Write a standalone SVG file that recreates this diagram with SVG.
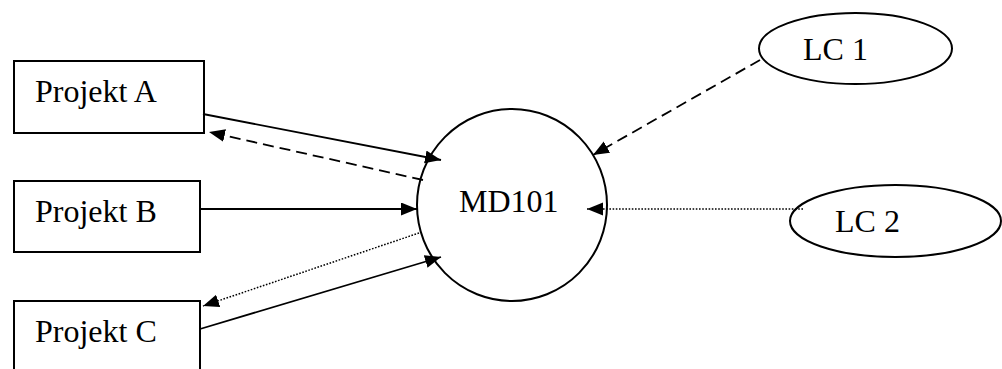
<svg xmlns="http://www.w3.org/2000/svg" width="1002" height="369" viewBox="0 0 1002 369">
<style>
.node{fill:#fff;stroke:#000;stroke-width:2}
.lbl{font-family:"Liberation Serif","Times New Roman",serif;font-size:32px;fill:#000}
.c{fill:none;stroke:#000;stroke-width:1.8}
.dash{stroke-dasharray:11 6}
.dot{stroke-dasharray:1.6 1.6;stroke-width:1.5}
</style>
<defs>
<marker id="ah" markerUnits="userSpaceOnUse" markerWidth="17" markerHeight="14" refX="16" refY="6.5" orient="auto">
<path d="M0,0 L16,6.5 L0,13 z" fill="#000"/>
</marker>
</defs>
<rect width="1002" height="369" fill="#fff"/>
<g id="projektA"><rect class="node" x="14" y="61" width="190" height="72"/><text class="lbl" x="35" y="102">Projekt A</text></g>
<g id="projektB"><rect class="node" x="14" y="181" width="186" height="71"/><text class="lbl" x="35" y="222">Projekt B</text></g>
<g id="projektC"><rect class="node" x="14" y="301" width="186" height="80"/><text class="lbl" x="35" y="342">Projekt C</text></g>
<g id="md101"><ellipse class="node" cx="512" cy="205" rx="95" ry="96"/><text class="lbl" x="459" y="212">MD101</text></g>
<g id="lc1"><ellipse class="node" cx="855.5" cy="48.5" rx="96.5" ry="35.5"/><text class="lbl" x="803" y="60">LC 1</text></g>
<g id="lc2"><ellipse class="node" cx="895.5" cy="221" rx="105.5" ry="36"/><text class="lbl" x="835" y="232">LC 2</text></g>
<g id="connectors">
<line class="c" x1="203" y1="114" x2="441" y2="160" marker-end="url(#ah)"/>
<line class="c dash" x1="423" y1="180" x2="209" y2="132" marker-end="url(#ah)"/>
<line class="c" x1="200" y1="209" x2="417" y2="209" marker-end="url(#ah)"/>
<line class="c dot" x1="419" y1="233" x2="203" y2="306" marker-end="url(#ah)"/>
<line class="c" x1="200" y1="329" x2="441" y2="257" marker-end="url(#ah)"/>
<line class="c dash" x1="760" y1="60" x2="593" y2="155" marker-end="url(#ah)"/>
<line class="c dot" x1="803" y1="209" x2="587" y2="209" marker-end="url(#ah)"/>
</g>
</svg>
